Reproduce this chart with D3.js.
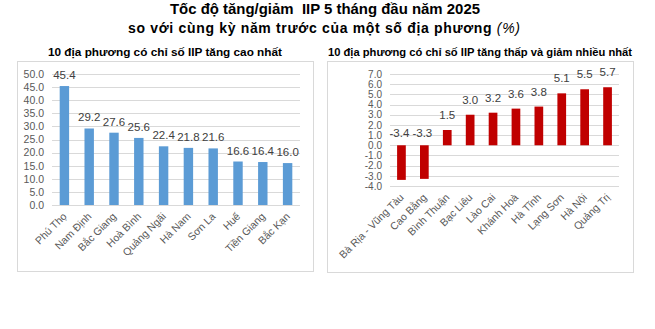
<!DOCTYPE html>
<html>
<head>
<meta charset="utf-8">
<script src="https://cdn.jsdelivr.net/npm/d3@7/dist/d3.min.js"></script>
<style>
  html, body { margin: 0; padding: 0; background: #fff; }
  svg { display: block; font-family: "Liberation Sans", Arial, sans-serif; }
</style>
</head>
<body>
<svg id="chart" width="655" height="329"></svg>
<script>
// Provinces with the highest IIP growth (5 months 2025, % yoy)
const topProvinces = ["Phú Thọ", "Nam Định", "Bắc Giang", "Hoà Bình", "Quảng Ngãi", "Hà Nam", "Sơn La", "Huế", "Tiền Giang", "Bắc Kạn"];
const topValues = [45.4, 29.2, 27.6, 25.6, 22.4, 21.8, 21.6, 16.6, 16.4, 16.0];
const topTicks = [0, 5, 10, 15, 20, 25, 30, 35, 40, 45, 50];

// Provinces with the lowest growth / largest decline
const lowProvinces = ["Bà Rịa - Vũng Tàu", "Cao Bằng", "Bình Thuận", "Bạc Liêu", "Lào Cai", "Khánh Hoà", "Hà Tĩnh", "Lạng Sơn", "Hà Nội", "Quảng Trị"];
const lowValues = [-3.4, -3.3, 1.5, 3.0, 3.2, 3.6, 3.8, 5.1, 5.5, 5.7];
const lowTicks = [-4, -3, -2, -1, 0, 1, 2, 3, 4, 5, 6, 7];

const svg = d3.select("#chart");
const f1 = d3.format(".1f");
// one decimal, plain hyphen for negatives
const fmt = d => f1(d).replace("\u2212", "-");

// Main title (two lines)
svg.append("text")
  .attr("x", 325).attr("y", 14)
  .attr("text-anchor", "middle")
  .attr("font-size", 14).attr("font-weight", "bold").attr("fill", "#000")
  .attr("textLength", 310).attr("lengthAdjust", "spacingAndGlyphs")
  .style("white-space", "pre")
  .text("Tốc độ tăng/giảm  IIP 5 tháng đầu năm 2025");

const title2 = svg.append("text")
  .attr("x", 324).attr("y", 33)
  .attr("text-anchor", "middle")
  .attr("font-size", 14).attr("font-weight", "bold").attr("fill", "#000")
  .attr("textLength", 392).attr("lengthAdjust", "spacing");
title2.append("tspan").text("so với cùng kỳ năm trước của một số địa phương ");
title2.append("tspan").attr("font-style", "italic").attr("font-weight", "normal").text("(%)");

function panel(opts) {
  const g = svg.append("g");
  // panel frame
  g.append("rect")
    .attr("x", opts.box[0] + 0.5).attr("y", opts.box[1] + 0.5)
    .attr("width", opts.box[2] - opts.box[0]).attr("height", opts.box[3] - opts.box[1])
    .attr("fill", "#fff").attr("stroke", "#D9D9D9");

  // panel subtitle
  g.append("text")
    .attr("x", opts.titleX).attr("y", 56)
    .attr("text-anchor", "middle")
    .attr("font-size", 11.5).attr("font-weight", "bold").attr("fill", "#000")
    .attr("textLength", opts.titleLen).attr("lengthAdjust", "spacingAndGlyphs")
    .text(opts.title);

  const x = d3.scaleBand()
    .domain(opts.cats)
    .range([opts.x0, opts.x1])
    .paddingInner(0.62).paddingOuter(0.31);
  const y = d3.scaleLinear().domain(opts.domain).range([opts.yBottom, opts.yTop]);

  // gridlines
  g.append("g").selectAll("line").data(opts.ticks).join("line")
    .attr("x1", opts.x0).attr("x2", opts.x1)
    .attr("y1", d => Math.round(y(d)) + 0.5).attr("y2", d => Math.round(y(d)) + 0.5)
    .attr("stroke", "#D9D9D9").attr("stroke-width", 1);

  // y axis labels
  const yAxis = d3.axisLeft(y).tickValues(opts.ticks).tickFormat(fmt).tickSize(0).tickPadding(0);
  const ya = g.append("g").attr("transform", `translate(${opts.x0 - 8},0)`).call(yAxis);
  ya.select(".domain").remove();
  ya.selectAll("text").attr("font-size", opts.tickSize).attr("fill", "#595959")
    .attr("font-family", "Liberation Sans, Arial, sans-serif");

  // bars
  g.append("g").selectAll("rect").data(opts.values).join("rect")
    .attr("x", (d, i) => x(opts.cats[i]))
    .attr("width", x.bandwidth())
    .attr("y", d => y(Math.max(0, d)))
    .attr("height", d => Math.abs(y(d) - y(0)))
    .attr("fill", opts.color);

  // value labels
  g.append("g").selectAll("text").data(opts.values).join("text")
    .attr("x", (d, i) => x(opts.cats[i]) + x.bandwidth() / 2 - (d < 0 ? 2 : 0))
    .attr("y", d => d >= 0 ? y(d) - opts.labelGap : y(0) - 8)
    .attr("text-anchor", "middle")
    .attr("font-size", 11.5).attr("fill", "#404040")
    .text(d => fmt(d));

  // category labels, rotated
  const xAxis = d3.axisBottom(x).tickSize(0).tickPadding(0);
  const xa = g.append("g").attr("transform", `translate(0,${opts.yBottom})`).call(xAxis);
  xa.select(".domain").remove();
  xa.selectAll("text")
    .attr("font-size", 10.5).attr("fill", "#595959")
    .attr("font-family", "Liberation Sans, Arial, sans-serif")
    .attr("text-anchor", "end")
    .attr("dy", null)
    .attr("transform", "translate(3,12) rotate(-45)");
}

panel({
  box: [17, 61, 313, 271],
  title: "10 địa phương có chỉ số IIP tăng cao nhất",
  titleX: 165, titleLen: 234,
  cats: topProvinces, values: topValues, ticks: topTicks,
  domain: [0, 50], yBottom: 205, yTop: 74,
  x0: 52, x1: 300, tickSize: 10.5,
  color: "#5B9BD5", labelGap: 7
});

panel({
  box: [327, 61, 633, 272],
  title: "10 địa phương có chỉ số IIP tăng thấp và giảm nhiều nhất",
  titleX: 480, titleLen: 304,
  cats: lowProvinces, values: lowValues, ticks: lowTicks,
  domain: [-4, 7], yBottom: 186, yTop: 74,
  x0: 390, x1: 619, tickSize: 10,
  color: "#C00000", labelGap: 11
});
</script>
</body>
</html>
